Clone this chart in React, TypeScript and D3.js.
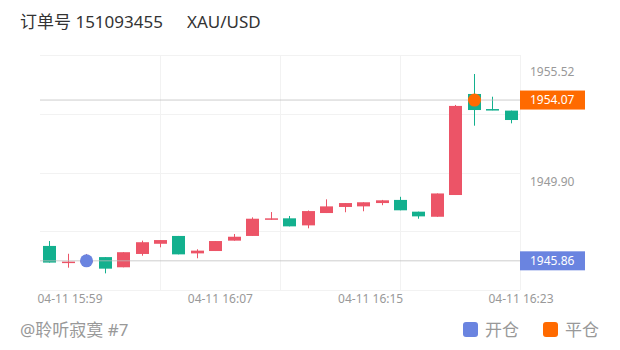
import React from 'react';
import * as d3 from 'd3';

const times = ['15:58','15:59','16:00','16:01','16:02','16:03','16:04','16:05','16:06','16:07','16:08','16:09','16:10','16:11','16:12','16:13','16:14','16:15','16:16','16:17','16:18','16:19','16:20','16:21','16:22','16:23'];
const opens = [1946.62,1945.76,1945.82,1946.05,1945.53,1946.21,1946.73,1947.13,1946.24,1946.36,1946.89,1947.13,1947.96,1948.03,1947.67,1948.30,1948.61,1948.64,1948.81,1948.97,1948.37,1948.11,1949.22,1954.38,1953.61,1953.53];
const highs = [1946.87,1946.22,1946.21,1946.05,1946.30,1946.89,1946.92,1947.13,1946.45,1946.87,1947.23,1948.08,1948.35,1948.15,1948.43,1949.00,1948.81,1948.85,1948.97,1949.13,1948.37,1949.30,1953.82,1955.40,1954.24,1953.53];
const lows = [1945.77,1945.51,1945.80,1945.22,1945.53,1946.12,1946.55,1946.19,1945.99,1946.36,1946.89,1947.13,1947.96,1947.62,1947.52,1948.30,1948.34,1948.39,1948.70,1948.44,1948.01,1948.11,1949.22,1952.76,1953.55,1952.88];
const closes = [1945.77,1945.82,1945.86,1945.46,1946.30,1946.81,1946.92,1946.19,1946.38,1946.87,1947.09,1948.01,1948.03,1947.62,1948.40,1948.64,1948.81,1948.85,1948.95,1948.44,1948.13,1949.30,1953.77,1953.56,1953.55,1953.05];

const xTickLabels = ['04-11 15:59', '04-11 16:07', '04-11 16:15', '04-11 16:23'];
const yAxisLabels = [1955.52, 1949.90];
const openTime = '16:00';
const openPrice = 1945.86;
const closeTime = '16:21';
const closePrice = 1954.07;
const orderNo = '151093455';
const symbol = 'XAU/USD';
const author = '@聆听寂寞 #7';
const legendItems = ['开仓', '平仓'];

const UP = '#ec5467';
const DOWN = '#13b08e';
const BLUE = '#6a84e0';
const ORANGE = '#ff6a00';
const FONT = '"Noto Sans", "Noto Sans CJK SC", sans-serif';

export default function App() {
  const W = 620, H = 350;
  const plot = { left: 40, right: 520, top: 55, bottom: 290 };
  const yDomain = [1944.37, 1956.37];

  const x = d3.scaleBand<string>().domain(times).range([plot.left, plot.right]).paddingInner(0.28).paddingOuter(0.14);
  const y = d3.scaleLinear().domain(yDomain).range([plot.bottom, plot.top]);
  const xc = (t: string) => Math.round((x(t) as number) + x.bandwidth() / 2);
  const tickX = d3.scalePoint<string>().domain(xTickLabels).range([70, 521]);

  const hGrid = d3.range(yDomain[0], yDomain[1] + 0.01, 3);
  const vGrid = d3.range(1, 5).map(k => plot.left + k * (plot.right - plot.left) / 4);
  const bw = Math.round(x.bandwidth());

  return (
    <svg width={W} height={H} style={{ position: 'absolute', left: 0, top: 0, background: '#fff' }} fontFamily={FONT}>
      <text x={20} y={28} fontSize={17} fill="#333">{'订单号 ' + orderNo}</text>
      <text x={187} y={28} fontSize={17} fill="#333">{symbol}</text>

      {hGrid.map((v, i) => (
        <line key={'h' + i} x1={plot.left} x2={plot.right} y1={Math.round(y(v)) + 0.5} y2={Math.round(y(v)) + 0.5} stroke="#f2f2f2" />
      ))}
      {vGrid.map((v, i) => (
        <line key={'v' + i} x1={Math.round(v) + 0.5} x2={Math.round(v) + 0.5} y1={plot.top} y2={plot.bottom} stroke="#f2f2f2" />
      ))}

      {times.map((t, i) => {
        const o = opens[i], c = closes[i];
        const up = c >= o;
        const col = up ? UP : DOWN;
        const cx = xc(t);
        const top = y(Math.max(o, c));
        const bot = y(Math.min(o, c));
        const h = Math.max(1.5, bot - top);
        return (
          <g key={t}>
            <line x1={cx + 0.5} x2={cx + 0.5} y1={y(highs[i])} y2={y(lows[i])} stroke={col} strokeWidth={1} />
            <rect x={cx - bw / 2 + 0.5} y={top} width={bw} height={h} fill={col} />
          </g>
        );
      })}

      <line x1={plot.left} x2={plot.right} y1={y(closePrice)} y2={y(closePrice)} stroke="#bdbdbd" strokeOpacity={0.75} />
      <line x1={plot.left} x2={plot.right} y1={y(openPrice)} y2={y(openPrice)} stroke="#bdbdbd" strokeOpacity={0.75} />

      <circle cx={xc(openTime) + 0.5} cy={y(openPrice)} r={6.5} fill={BLUE} />
      <circle cx={xc(closeTime) + 0.5} cy={y(closePrice)} r={6.5} fill={ORANGE} />

      {yAxisLabels.map(v => (
        <text key={v} x={530} y={y(v)} dy="0.35em" fontSize={12} fill="#999">{v.toFixed(2)}</text>
      ))}

      <rect x={520} y={y(closePrice) - 9.5} width={65} height={19} fill={ORANGE} />
      <text x={530} y={y(closePrice)} dy="0.35em" fontSize={12} fill="#fff">{closePrice.toFixed(2)}</text>
      <rect x={520} y={y(openPrice) - 9.5} width={65} height={19} fill={BLUE} />
      <text x={530} y={y(openPrice)} dy="0.35em" fontSize={12} fill="#fff">{openPrice.toFixed(2)}</text>

      {xTickLabels.map(l => (
        <text key={l} x={tickX(l)} y={303} textAnchor="middle" fontSize={12} fill="#999">{l}</text>
      ))}

      <text x={20} y={336} fontSize={17} fill="#999">{author}</text>

      <rect x={463} y={322} width={15} height={15} rx={3} fill={BLUE} />
      <text x={485} y={336} fontSize={17} fill="#999">{legendItems[0]}</text>
      <rect x={543} y={322} width={15} height={15} rx={3} fill={ORANGE} />
      <text x={565} y={336} fontSize={17} fill="#999">{legendItems[1]}</text>
    </svg>
  );
}
